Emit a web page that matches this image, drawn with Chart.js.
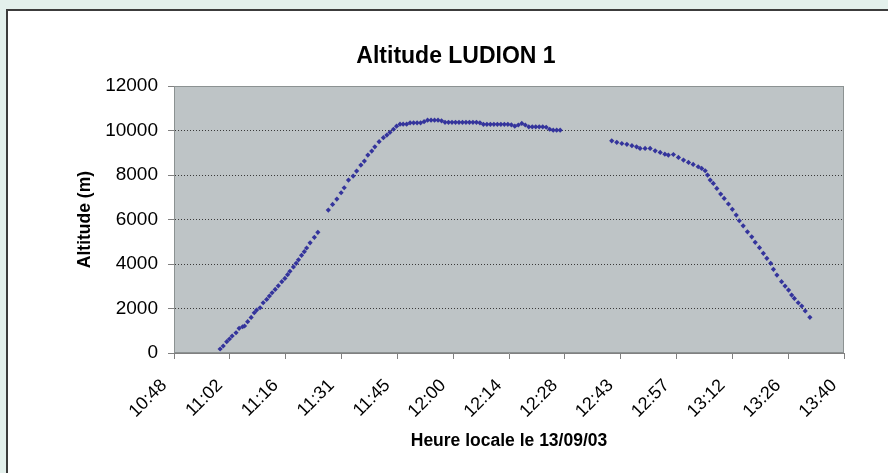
<!DOCTYPE html>
<html>
<head>
<meta charset="utf-8">
<script src="https://cdn.jsdelivr.net/npm/chart.js@4/dist/chart.umd.min.js"></script>
<style>
  html, body { margin: 0; padding: 0; width: 888px; height: 473px; overflow: hidden; background: #e3f0ec; }
  #frame { position: absolute; left: 6px; top: 9px; width: 900px; height: 480px; background: #ffffff;
           border-left: 2px solid #3c3c3c; border-top: 2px solid #3c3c3c; }
  #wrap { position: absolute; left: 0; top: 0; width: 888px; height: 473px; }
</style>
</head>
<body>
<div id="frame"></div>
<div id="wrap"><canvas id="c" width="888" height="473"></canvas></div>
<script>
// Time axis: minutes after midnight, ticks every 0.01 day (14.4 min) from 10:48 to 13:40
const tickLabels = ['10:48', '11:02', '11:16', '11:31', '11:45', '12:00', '12:14',
                    '12:28', '12:43', '12:57', '13:12', '13:26', '13:40'];
const xMin = 648, tickStep = 14.4;

// Ascent (minutes after midnight, altitude in m)
const ascentTime = [659.9, 660.7, 661.6, 662.3, 663.0, 664.0, 664.8, 665.7, 666.2, 667.0,
                    667.9, 668.7, 669.3, 670.2, 671.0, 671.9, 672.6, 673.3, 674.1, 674.9,
                    675.8, 676.6, 677.3, 677.9, 678.8, 679.5, 680.1, 680.9, 681.6, 682.2,
                    683.1, 684.2, 685.1, 687.8, 688.9, 690.0, 691.1, 691.9, 693.0, 694.2,
                    695.1, 696.2, 697.1, 698.0, 699.0, 699.8, 700.9, 702.0, 702.9, 703.7,
                    704.6, 705.4, 706.3, 707.1];
const ascentAlt = [180, 315, 510, 630, 765, 910, 1110, 1180, 1215, 1410,
                   1600, 1810, 1930, 2035, 2260, 2410, 2560, 2710, 2860, 3020,
                   3205, 3355, 3520, 3670, 3870, 4030, 4190, 4390, 4555, 4720,
                   4955, 5200, 5425, 6425, 6680, 6920, 7205, 7430, 7775, 7955,
                   8180, 8450, 8630, 8900, 9080, 9270, 9500, 9680, 9800, 9920,
                   10060, 10200, 10290, 10290];

// Ceiling
const ceilingTime = [708.0, 708.9, 709.8, 710.7, 711.6, 712.5, 713.4, 714.3, 715.2, 716.1,
                     717.0, 717.9, 718.8, 719.7, 720.6, 721.5, 722.4, 723.3, 724.2, 725.1,
                     726.0, 726.9, 727.8, 728.7, 729.6, 730.5, 731.4, 732.3, 733.2, 734.1,
                     735.0, 735.9, 736.8, 737.7, 738.6, 739.5, 740.4, 741.3, 742.2, 743.1,
                     744.0, 744.9, 745.8, 746.7, 747.6];
const ceilingAlt = [10290, 10350, 10350, 10350, 10350, 10400, 10470, 10470, 10470, 10470,
                    10440, 10370, 10370, 10370, 10370, 10370, 10370, 10370, 10370, 10370,
                    10370, 10350, 10280, 10280, 10280, 10280, 10280, 10280, 10280, 10280,
                    10260, 10200, 10250, 10320, 10250, 10170, 10170, 10170, 10170, 10170,
                    10150, 10060, 10020, 10020, 10020];

// Descent
const descentTime = [760.9, 762.2, 763.5, 764.8, 766.1, 767.3, 768.2, 769.5, 770.8, 772.1,
                     773.4, 774.6, 775.5, 776.8, 778.1, 779.4, 780.7, 781.9, 783.2, 784.1,
                     785.0, 785.6, 786.3, 787.1, 788.0, 789.0, 789.9, 791.0, 792.0, 793.0,
                     793.8, 794.8, 795.9, 797.0, 797.9, 799.0, 800.0, 800.9, 801.9, 802.6,
                     803.5, 804.7, 805.6, 806.5, 807.3, 808.0, 809.0, 809.9, 810.8, 812.0];
const descentAlt = [9540, 9470, 9420, 9380, 9320, 9270, 9200, 9200, 9200, 9090,
                    9020, 8940, 8900, 8925, 8795, 8675, 8570, 8480, 8375, 8300,
                    8195, 8000, 7775, 7625, 7400, 7145, 6950, 6700, 6460, 6200,
                    5945, 5720, 5450, 5225, 4975, 4735, 4480, 4255, 4030, 3760,
                    3505, 3205, 3010, 2830, 2605, 2455, 2260, 2110, 1890, 1605];

const toPoints = (t, a) => t.map((v, i) => ({ x: v, y: a[i] }));
const flightPoints = [].concat(
  toPoints(ascentTime, ascentAlt),
  toPoints(ceilingTime, ceilingAlt),
  toPoints(descentTime, descentAlt)
);

const FONT = 'Liberation Sans, Arial, Helvetica, sans-serif';

// grey plot area with a thin frame
const plotFrame = {
  id: 'plotFrame',
  beforeDraw(chart) {
    const { ctx, chartArea: { left, top, width, height } } = chart;
    ctx.save();
    ctx.fillStyle = '#bec4c6';
    ctx.fillRect(left, top, width, height);
    ctx.restore();
  },
  afterDraw(chart) {
    const { ctx, chartArea: { left, top, width, height } } = chart;
    ctx.save();
    ctx.strokeStyle = '#8c9292';
    ctx.lineWidth = 1;
    ctx.strokeRect(Math.round(left) + 0.5, Math.round(top) + 0.5, Math.round(width) - 1, Math.round(height) - 1);
    ctx.restore();
  }
};

new Chart(document.getElementById('c'), {
  type: 'scatter',
  data: {
    datasets: [{
      label: 'Altitude',
      data: flightPoints,
      pointStyle: 'rectRot',
      pointRadius: 2.6,
      pointBorderWidth: 0,
      backgroundColor: '#34349c',
      borderColor: '#34349c',
      showLine: false
    }]
  },
  options: {
    responsive: false,
    animation: false,
    devicePixelRatio: 1,
    layout: { padding: { left: 68, top: 36, right: 44, bottom: 10 } },
    plugins: {
      legend: { display: false },
      tooltip: { enabled: false },
      title: {
        display: true,
        text: 'Altitude LUDION 1',
        color: '#000',
        font: { family: FONT, size: 23, weight: 'bold' },
        padding: { top: 6.5, bottom: 16 }
      }
    },
    scales: {
      x: {
        type: 'linear',
        min: xMin,
        max: xMin + tickStep * (tickLabels.length - 1),
        afterFit(scale) { scale.height = 110; },
        afterBuildTicks(scale) {
          scale.ticks = tickLabels.map((_, i) => ({ value: xMin + i * tickStep }));
        },
        ticks: {
          autoSkip: false,
          maxRotation: 45,
          minRotation: 45,
          padding: 16,
          labelOffset: -10,
          color: '#000',
          font: { family: FONT, size: 18 },
          callback: (v, i) => tickLabels[i]
        },
        grid: { drawOnChartArea: false, drawTicks: true, tickLength: 6, tickColor: '#808080' },
        border: { display: true, color: '#808080', width: 1 },
        title: {
          display: true,
          text: 'Heure locale le 13/09/03',
          color: '#000',
          font: { family: FONT, size: 17.5, weight: 'bold' },
          padding: { top: 0, bottom: 11 }
        }
      },
      y: {
        min: 0,
        max: 12000,
        afterFit(scale) { scale.width = 106; },
        ticks: {
          stepSize: 2000,
          padding: 10,
          color: '#000',
          font: { family: FONT, size: 19 },
          callback: (v) => String(v)
        },
        grid: {
          drawOnChartArea: true,
          drawTicks: true,
          tickLength: 6,
          tickColor: '#808080',
          tickBorderDash: [],
          lineWidth: 1,
          color: (c) => (c.tick && (c.tick.value === 0 || c.tick.value === 12000)) ? 'rgba(0,0,0,0)' : '#3a3a3a'
        },
        border: { display: true, color: '#808080', width: 1, dash: [1, 2] },
        title: {
          display: true,
          text: 'Altitude (m)',
          color: '#000',
          font: { family: FONT, size: 17.5, weight: 'bold' },
          padding: { top: 6.5, bottom: 0 }
        }
      }
    }
  },
  plugins: [plotFrame]
});
</script>
</body>
</html>
